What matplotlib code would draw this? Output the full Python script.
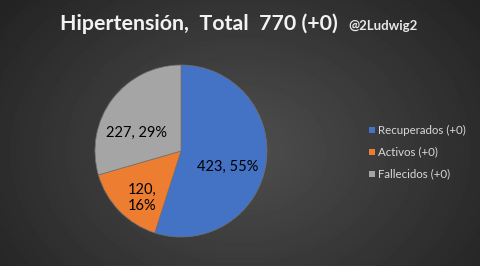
import numpy as np
import matplotlib
matplotlib.use("Agg")
import matplotlib.pyplot as plt
from matplotlib.patches import Rectangle

# Data
labels = ["Recuperados (+0)", "Activos (+0)", "Fallecidos (+0)"]
values = [423, 120, 227]
pcts = ["55%", "16%", "29%"]
colors = ["#4472C4", "#ED7D31", "#A5A5A5"]
title_main = "Hipertensión,  Total  770 (+0)"
title_tag = "@2Ludwig2"

W, H = 480, 266
fig = plt.figure(figsize=(W / 100, H / 100), dpi=100)

# radial gradient background
bg = fig.add_axes([0, 0, 1, 1])
yy, xx = np.mgrid[0:H, 0:W]
r = np.sqrt(((xx - 240) / 300.0) ** 2 + ((yy - 150) / 230.0) ** 2)
shade = 0.31 - 0.17 * np.clip(r, 0, 1)
bg.imshow(shade, cmap="gray", vmin=0, vmax=1, extent=[0, W, H, 0], aspect="auto")
bg.set_xlim(0, W)
bg.set_ylim(H, 0)
bg.axis("off")

# pie
ax = fig.add_axes([(181 - 86) / W, 1 - (151 + 86) / H, 172 / W, 172 / H])
wedges, _ = ax.pie(values, colors=colors, startangle=90, counterclock=False,
                   radius=1.0, wedgeprops=dict(linewidth=0.5, edgecolor="#707070"))
ax.set_xlim(-1, 1)
ax.set_ylim(-1, 1)
ax.set_aspect("equal")

# data labels
label_pos = [(0.54, -0.19), (-0.45, -0.55), (-0.52, 0.21)]
label_txt = [f"{values[0]}, {pcts[0]}", f"{values[1]},\n{pcts[1]}", f"{values[2]}, {pcts[2]}"]
for (x, y), t in zip(label_pos, label_txt):
    ax.text(x, y, t, ha="center", va="center", fontsize=10.5, color="black",
            family="Lato", linespacing=1.2)

# title
bg.text(338, 24, title_main, ha="right", va="center", fontsize=15.4,
        fontweight="bold", color="#f2f2f2", family="Lato")
bg.text(348, 26, title_tag, ha="left", va="center", fontsize=9.5,
        fontweight="bold", color="#e8e8e8", family="Lato")

# legend
for i, (lab, c) in enumerate(zip(labels, colors)):
    y = 130 + i * 22
    bg.add_patch(Rectangle((369, y - 3), 6, 6, facecolor=c, edgecolor="none"))
    bg.text(378, y, lab, ha="left", va="center", fontsize=8.3, color="#d9d9d9",
            family="Lato")

fig.savefig("out.png", dpi=100)
